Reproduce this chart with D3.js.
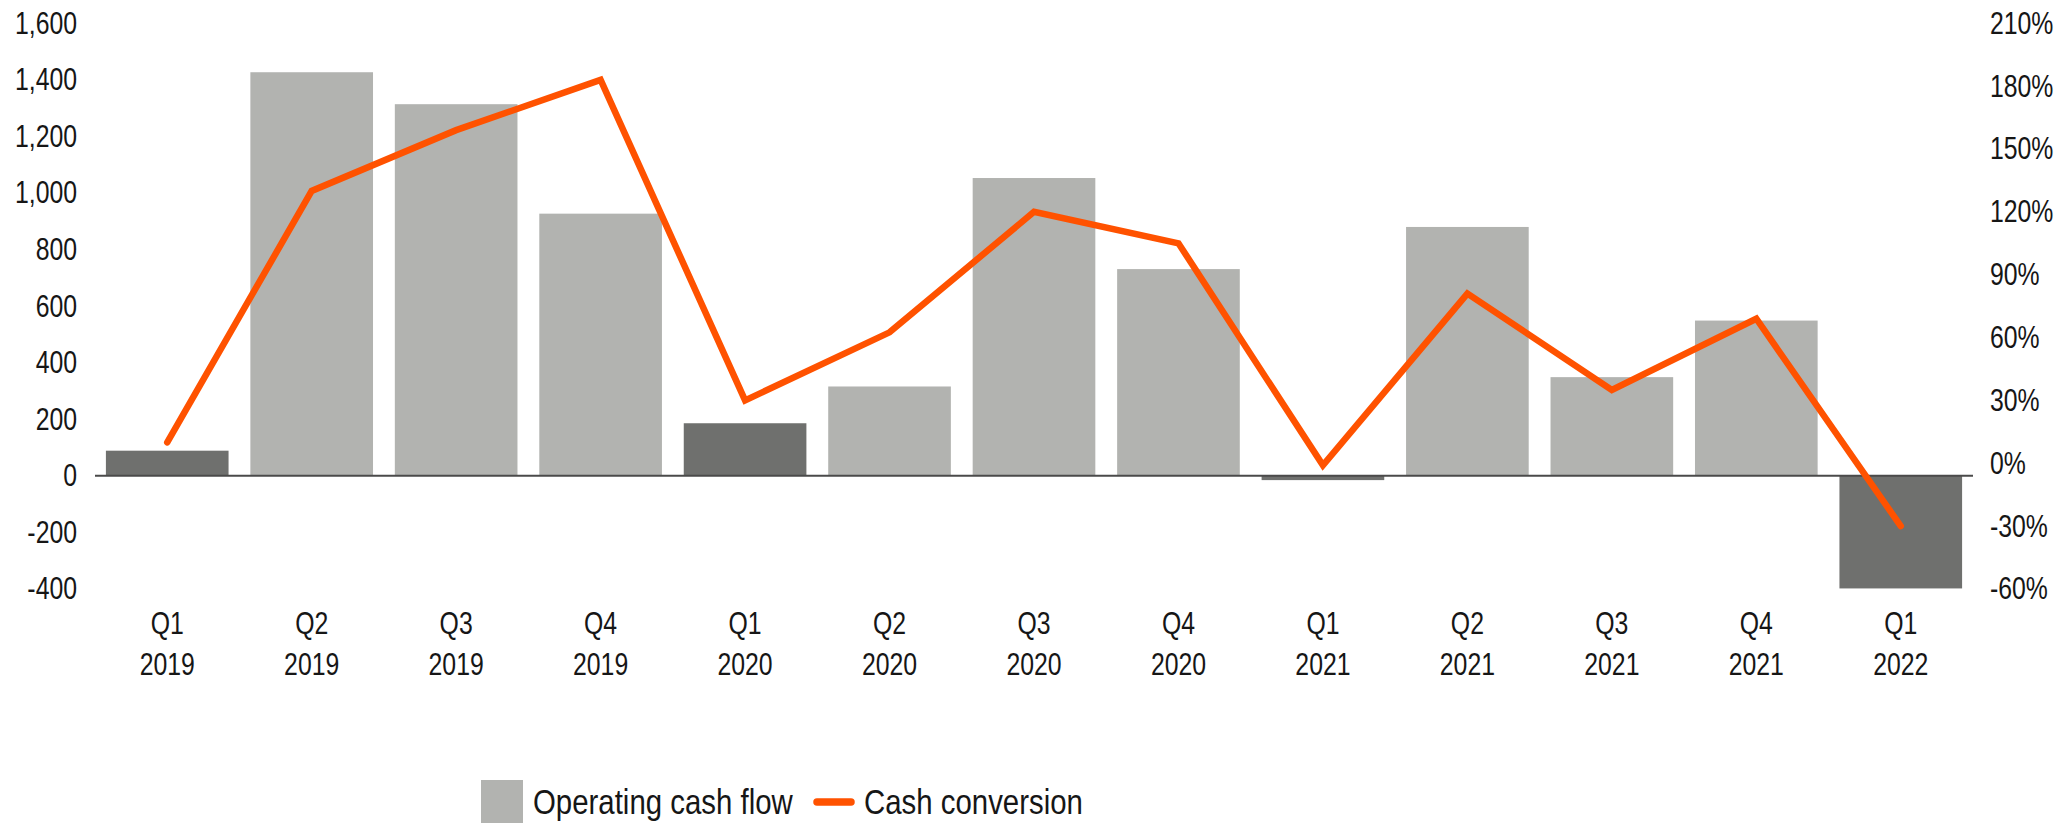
<!DOCTYPE html>
<html>
<head>
<meta charset="utf-8">
<title>Operating cash flow and cash conversion</title>
<script src="https://cdn.jsdelivr.net/npm/d3@7"></script>
<style>
  html, body { margin: 0; padding: 0; background: #fff; }
  svg { display: block; }
  text { font-family: "Liberation Sans", Arial, sans-serif; fill: #161616; }
</style>
</head>
<body>
<svg id="chart" width="2068" height="824"></svg>
<script>
// Quarterly data
const quarters = ["Q1", "Q2", "Q3", "Q4", "Q1", "Q2", "Q3", "Q4", "Q1", "Q2", "Q3", "Q4", "Q1"];
const years    = ["2019", "2019", "2019", "2019", "2020", "2020", "2020", "2020", "2021", "2021", "2021", "2021", "2022"];
const operatingCashFlow = [89, 1427, 1314, 927, 186, 316, 1053, 731, -15, 880, 349, 549, -398];
const cashConversion    = [10, 130, 159, 183, 30, 62.5, 120, 105, -1, 81, 35, 69, -30];

// Axis ticks
const leftTicks = [-400, -200, 0, 200, 400, 600, 800, 1000, 1200, 1400, 1600];
const leftTickLabels = ["-400", "-200", "0", "200", "400", "600", "800", "1,000", "1,200", "1,400", "1,600"];
const rightTicks = [-60, -30, 0, 30, 60, 90, 120, 150, 180, 210];
const rightTickLabels = ["-60%", "-30%", "0%", "30%", "60%", "90%", "120%", "150%", "180%", "210%"];

const seriesNames = ["Operating cash flow", "Cash conversion"];

const colors = { bar: "#b2b3b0", barQ1: "#6f706e", line: "#ff5200", axis: "#4a4a4a" };
const squeeze = 0.8;    // narrow typeface look
const labelSize = 31;

const svg = d3.select("#chart");
const keys = quarters.map((q, i) => q + " " + years[i]);

const x = d3.scaleBand()
  .domain(keys)
  .range([95, 1973])
  .paddingInner(0.151)
  .paddingOuter(0.0755);

const yTop = 23.3, yBottom = 589;
const yL = d3.scaleLinear().domain([-400, 1600]).range([yBottom, yTop]);
const yR = d3.scaleLinear().domain([-60, 210]).range([yBottom, yTop]);

// Bars
svg.append("g")
  .selectAll("rect")
  .data(operatingCashFlow)
  .join("rect")
  .attr("x", (d, i) => x(keys[i]))
  .attr("width", x.bandwidth())
  .attr("y", d => yL(Math.max(0, d)))
  .attr("height", d => Math.abs(yL(d) - yL(0)))
  .attr("fill", (d, i) => quarters[i] === "Q1" ? colors.barQ1 : colors.bar);

// Zero baseline
svg.append("line")
  .attr("x1", x.range()[0]).attr("x2", x.range()[1])
  .attr("y1", yL(0)).attr("y2", yL(0))
  .attr("stroke", colors.axis)
  .attr("stroke-width", 2);

// Cash conversion line
const line = d3.line()
  .x((d, i) => x(keys[i]) + x.bandwidth() / 2)
  .y(d => yR(d));

svg.append("path")
  .datum(cashConversion)
  .attr("d", line)
  .attr("fill", "none")
  .attr("stroke", colors.line)
  .attr("stroke-width", 6.5)
  .attr("stroke-linejoin", "miter")
  .attr("stroke-linecap", "round");

// Left axis
const leftAxis = svg.append("g")
  .attr("transform", "translate(77,0)")
  .call(d3.axisLeft(yL)
    .tickValues(leftTicks)
    .tickSize(0)
    .tickPadding(0)
    .tickFormat((d, i) => leftTickLabels[i]));
leftAxis.select(".domain").remove();
leftAxis.selectAll("text")
  .attr("font-size", labelSize)
  .attr("font-family", "Liberation Sans, Arial, sans-serif")
  .attr("fill", "#161616")
  .attr("transform", `scale(${squeeze},1)`);

// Right axis
const rightAxis = svg.append("g")
  .attr("transform", "translate(1990,0)")
  .call(d3.axisRight(yR)
    .tickValues(rightTicks)
    .tickSize(0)
    .tickPadding(0)
    .tickFormat((d, i) => rightTickLabels[i]));
rightAxis.select(".domain").remove();
rightAxis.selectAll("text")
  .attr("font-size", labelSize)
  .attr("font-family", "Liberation Sans, Arial, sans-serif")
  .attr("fill", "#161616")
  .attr("transform", `scale(${squeeze},1)`);

// Category labels (quarter over year)
const catLabels = svg.append("g")
  .selectAll("text")
  .data(keys)
  .join("text")
  .attr("transform", k => `translate(${x(k) + x.bandwidth() / 2},0) scale(${squeeze},1)`)
  .attr("text-anchor", "middle")
  .attr("font-size", labelSize);
catLabels.append("tspan").attr("x", 0).attr("y", 634).text((k, i) => quarters[i]);
catLabels.append("tspan").attr("x", 0).attr("y", 675).text((k, i) => years[i]);

// Legend
const legend = svg.append("g");
legend.append("rect")
  .attr("x", 481).attr("y", 780)
  .attr("width", 42).attr("height", 43)
  .attr("fill", colors.bar);
legend.append("text")
  .attr("transform", `translate(533,814) scale(0.84,1)`)
  .attr("font-size", 35)
  .text(seriesNames[0]);
legend.append("line")
  .attr("x1", 817).attr("x2", 851)
  .attr("y1", 802).attr("y2", 802)
  .attr("stroke", colors.line)
  .attr("stroke-width", 7.5)
  .attr("stroke-linecap", "round");
legend.append("text")
  .attr("transform", `translate(864,814) scale(0.84,1)`)
  .attr("font-size", 35)
  .text(seriesNames[1]);
</script>
</body>
</html>
